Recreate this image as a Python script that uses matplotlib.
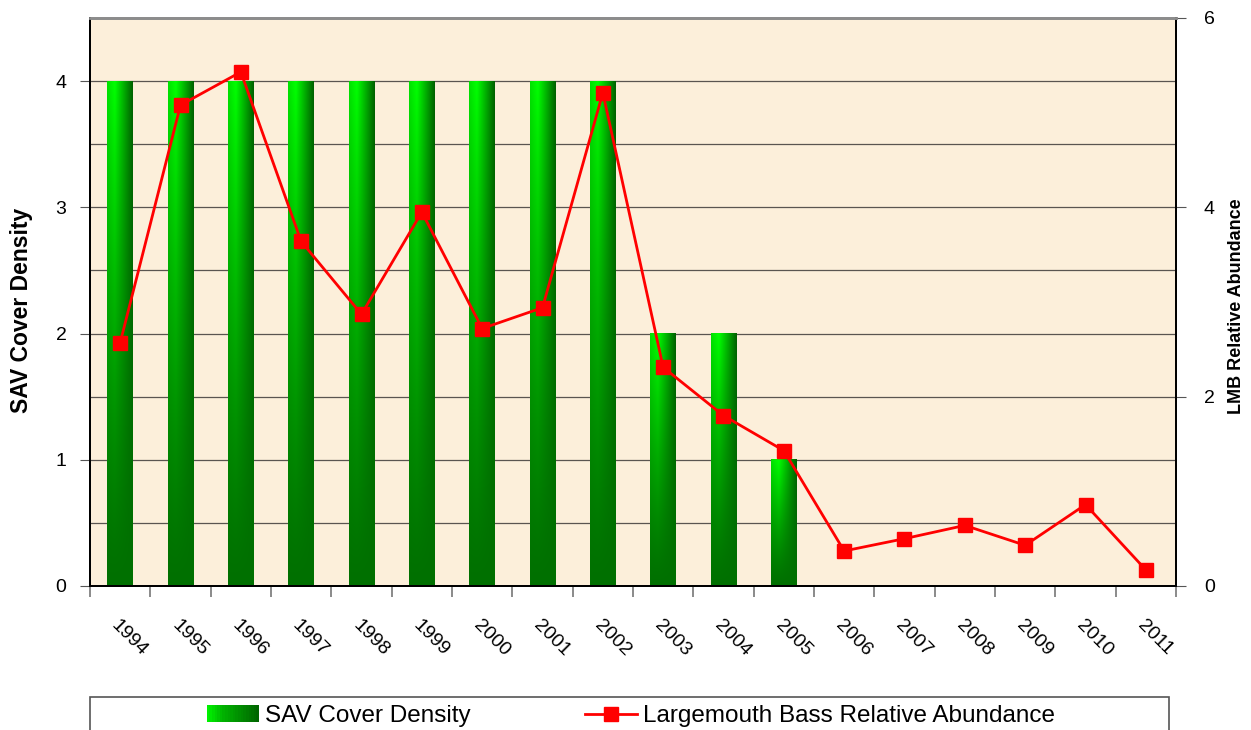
import numpy as np
import matplotlib
matplotlib.use('Agg')
import matplotlib.pyplot as plt
from matplotlib.patches import Rectangle
from matplotlib.lines import Line2D
from matplotlib.legend_handler import HandlerBase

plt.rcParams['font.family'] = ['Liberation Sans', 'DejaVu Sans']

years = ['1994', '1995', '1996', '1997', '1998', '1999', '2000', '2001', '2002',
         '2003', '2004', '2005', '2006', '2007', '2008', '2009', '2010', '2011']
sav_density = [4, 4, 4, 4, 4, 4, 4, 4, 4, 2, 2, 1, 0, 0, 0, 0, 0, 0]
lmb_abundance = [2.57, 5.08, 5.43, 3.64, 2.87, 3.95, 2.72, 2.94, 5.21,
                 2.31, 1.80, 1.43, 0.37, 0.50, 0.64, 0.43, 0.86, 0.17]

bg = '#fcefda'
bar_w = 0.42


def bar_gradient(nx=40, ny=60):
    # oben: links hell -> rechts dunkel, unten einheitlich dunkelgrün
    tx = np.linspace(0, 1, nx)
    top_g = np.interp(tx, [0, 0.3, 1.0], [0.88, 1.0, 0.38])
    bot_g = np.full(nx, 0.44)
    tv = np.linspace(0, 1, ny)[:, None]
    g = bot_g[None, :] + (top_g - bot_g)[None, :] * tv ** 1.3
    img = np.zeros((ny, nx, 3))
    img[..., 1] = g
    return img


grad = bar_gradient()

L, R, T, B = 90, 1176, 18, 586
fig = plt.figure(figsize=(12.51, 7.30), dpi=100)
ax = fig.add_axes([L / 1251, 1 - B / 730, (R - L) / 1251, (B - T) / 730])
ax.set_facecolor(bg)

x = np.arange(len(years))

for xi, h in zip(x, sav_density):
    if h > 0:
        ax.imshow(grad, extent=[xi - bar_w / 2, xi + bar_w / 2, 0, h], origin='lower',
                  aspect='auto', zorder=2, interpolation='bilinear')
ax.set_aspect('auto')
ax.set_xlim(-0.5, len(years) - 0.5)
ax.set_ylim(0, 4.5)

# Gitterlinien alle 0.5
for gy in np.arange(0.5, 4.5, 0.5):
    ax.axhline(gy, color='#5a5550', lw=0.9, zorder=1)

ax.set_yticks([0, 1, 2, 3, 4])
ax.tick_params(axis='y', labelsize=14, length=7, color='#555555', pad=10)
ax.set_xticks(x)
ax.set_xticklabels(years, rotation=-45, ha='left', va='top', rotation_mode='anchor', fontsize=14)
ax.tick_params(axis='x', length=0, pad=22)
ax.set_xticks(np.arange(-0.5, len(years), 1), minor=True)
ax.tick_params(axis='x', which='minor', length=8, color='#777777', width=1.2)
ax.set_ylabel('SAV Cover Density', fontsize=16.5, fontweight='bold')
ax.yaxis.set_label_coords((33 - L) / (R - L), (B - 310) / (B - T))

for s in ['left', 'bottom', 'right']:
    ax.spines[s].set_color('black')
    ax.spines[s].set_linewidth(1.4)
ax.spines['top'].set_color('#8c8c8c')
ax.spines['top'].set_linewidth(2)

ax2 = ax.twinx()
ax2.set_ylim(0, 6)
ax2.set_yticks([0, 2, 4, 6])
ax2.tick_params(axis='y', labelsize=14, length=7, color='#555555', pad=13)
ax2.plot(x, lmb_abundance, color='#ff0000', lw=2, marker='s', markersize=10,
         markerfacecolor='#ff0000', markeredgecolor='#ff0000', zorder=5)
ax2.set_ylabel('LMB Relative Abundance', fontsize=13, fontweight='bold')
ax2.yaxis.set_label_coords((1228 - L) / (R - L), (B - 306) / (B - T))
for s in ['left', 'bottom', 'right']:
    ax2.spines[s].set_color('black')
    ax2.spines[s].set_linewidth(1.4)
ax2.spines['top'].set_color('#8c8c8c')
ax2.spines['top'].set_linewidth(2)


class GradientHandler(HandlerBase):
    def create_artists(self, legend, orig_handle, xdescent, ydescent, width, height, fontsize, trans):
        arts = []
        n = 20
        for i in range(n):
            t = i / (n - 1)
            g = np.interp(t, [0, 0.3, 1.0], [0.95, 0.7, 0.4])
            r = Rectangle((xdescent + width * i / n, ydescent), width / n + 0.3, height,
                          facecolor=(0, g, 0), edgecolor='none', transform=trans)
            arts.append(r)
        return arts


bar_handle = Rectangle((0, 0), 1, 1)
line_handle = Line2D([], [], color='#ff0000', lw=2, marker='s', markersize=10)

# Legendenrahmen über volle Breite
fig.patches.append(Rectangle((90 / 1251, -0.05), (1169 - 90) / 1251, 0.05 + (730 - 697) / 730,
                             transform=fig.transFigure, facecolor='white',
                             edgecolor='#555555', lw=1.2))
fig.legend([bar_handle, line_handle], ['SAV Cover Density', 'Largemouth Bass Relative Abundance'],
           handler_map={bar_handle: GradientHandler()}, loc='center',
           bbox_to_anchor=(631 / 1251, 1 - 716 / 730), ncol=2, frameon=False,
           fontsize=17.5, columnspacing=4.7, handlelength=2.15, handletextpad=0.25)

fig.savefig('out.png', dpi=100)
